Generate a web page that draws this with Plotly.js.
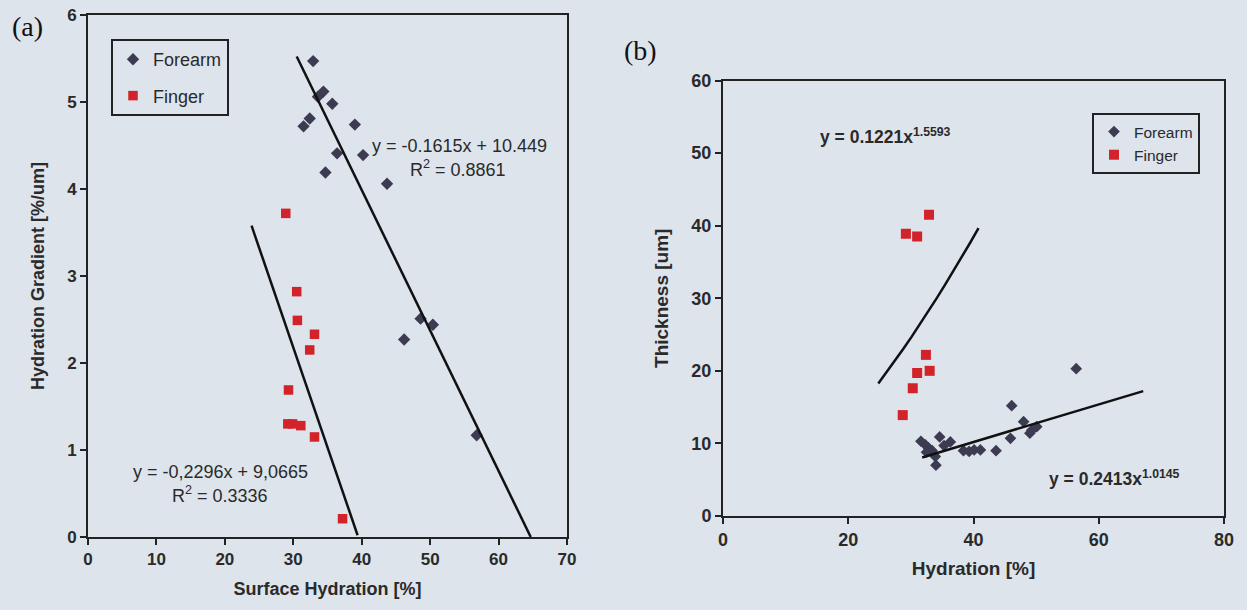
<!DOCTYPE html>
<html>
<head>
<meta charset="utf-8">
<script src="https://cdn.plot.ly/plotly-3.0.1.min.js"></script>
<style>
html,body{margin:0;padding:0;background:#dde4ec;}
#chart{width:1247px;height:610px;}
</style>
</head>
<body>
<div id="chart"></div>
<script>
// ---------- Panel (a): Hydration gradient vs surface hydration ----------
const aForearmX = [32.9, 34.4, 33.6, 35.7, 31.5, 32.4, 39.0, 36.4, 40.2, 34.7, 43.7, 48.6, 50.4, 46.2, 56.8];
const aForearmY = [5.47, 5.12, 5.06, 4.98, 4.72, 4.81, 4.74, 4.41, 4.39, 4.19, 4.06, 2.51, 2.44, 2.27, 1.17];
const aFingerX = [28.9, 30.5, 30.6, 33.1, 32.4, 29.3, 29.2, 29.9, 31.1, 33.1, 37.2];
const aFingerY = [3.72, 2.82, 2.49, 2.33, 2.15, 1.69, 1.30, 1.30, 1.28, 1.15, 0.21];
// linear trend lines y = m*x + c (coefficients as printed) and x-extent
const aForearmFit = [-0.1615, 10.449];
const aForearmFitRange = [30.5, 64.7];
const aFingerFit = [-0.2296, 9.0665];
const aFingerFitRange = [23.9, 39.4];

// ---------- Panel (b): Thickness vs hydration ----------
const bForearmX = [31.6, 32.3, 32.8, 33.4, 32.5, 33.9, 34.0, 34.6, 35.3, 36.3, 38.4, 39.3, 40.1, 41.1, 43.6, 45.9, 46.1, 48.0, 49.3, 49.0, 50.1, 56.4];
const bForearmY = [10.3, 9.8, 9.4, 9.0, 8.8, 8.2, 7.0, 10.9, 9.7, 10.2, 9.0, 8.9, 9.1, 9.1, 9.0, 10.7, 15.2, 13.0, 11.8, 11.4, 12.3, 20.3];
const bFingerX = [29.2, 31.0, 32.9, 32.4, 31.0, 33.0, 30.3, 28.7];
const bFingerY = [38.9, 38.5, 41.5, 22.2, 19.7, 20.0, 17.6, 13.9];
// power trend lines y = a*x^b (coefficients as printed) and x-extent
const bFingerFit = [0.1221, 1.5593];
const bFingerFitRange = [24.8, 40.8];
const bForearmFit = [0.2413, 1.0145];
const bForearmFitRange = [31.8, 67.1];

// ---------- helpers ----------
const W = 1247, H = 610;
const px = x => x / W;
const py = y => 1 - y / H;
function linLine(c, r) {
  return {x: r, y: r.map(v => c[0] * v + c[1])};
}
function powLine(c, r) {
  const n = 12, xs = [];
  for (let i = 0; i <= n; i++) xs.push(r[0] + (r[1] - r[0]) * i / n);
  return {x: xs, y: xs.map(v => c[0] * Math.pow(v, c[1]))};
}

const FONT = 'Arial, "Liberation Sans", sans-serif';
const SERIF = '"Liberation Serif", "DejaVu Serif", serif';
const TXT = '#2a2a2a';
const FORE = '#3d3b52';
const FING = '#d2222a';
const BG = '#dde4ec';

const l1 = linLine(aForearmFit, aForearmFitRange);
const l2 = linLine(aFingerFit, aFingerFitRange);
const p1 = powLine(bFingerFit, bFingerFitRange);
const p2 = powLine(bForearmFit, bForearmFitRange);

const traces = [
  {x: aForearmX, y: aForearmY, type: 'scatter', mode: 'markers', name: 'Forearm',
   marker: {symbol: 'diamond', size: 9.5, color: FORE}, xaxis: 'x', yaxis: 'y',
   legend: 'legend', legendgroup: 'a1'},
  {x: aFingerX, y: aFingerY, type: 'scatter', mode: 'markers', name: 'Finger',
   marker: {symbol: 'square', size: 9.5, color: FING}, xaxis: 'x', yaxis: 'y',
   legend: 'legend', legendgroup: 'a2'},
  {x: l1.x, y: l1.y, type: 'scatter', mode: 'lines', line: {color: '#111', width: 2.5},
   showlegend: false, hoverinfo: 'skip', xaxis: 'x', yaxis: 'y'},
  {x: l2.x, y: l2.y, type: 'scatter', mode: 'lines', line: {color: '#111', width: 2.5},
   showlegend: false, hoverinfo: 'skip', xaxis: 'x', yaxis: 'y'},

  {x: bForearmX, y: bForearmY, type: 'scatter', mode: 'markers', name: 'Forearm',
   marker: {symbol: 'diamond', size: 9, color: FORE}, xaxis: 'x2', yaxis: 'y2',
   legend: 'legend2'},
  {x: bFingerX, y: bFingerY, type: 'scatter', mode: 'markers', name: 'Finger',
   marker: {symbol: 'square', size: 10, color: FING}, xaxis: 'x2', yaxis: 'y2',
   legend: 'legend2'},
  {x: p1.x, y: p1.y, type: 'scatter', mode: 'lines', line: {color: '#111', width: 2.5},
   showlegend: false, hoverinfo: 'skip', xaxis: 'x2', yaxis: 'y2'},
  {x: p2.x, y: p2.y, type: 'scatter', mode: 'lines', line: {color: '#111', width: 2.5},
   showlegend: false, hoverinfo: 'skip', xaxis: 'x2', yaxis: 'y2'}
];

const fnt = (s, w) => ({family: FONT, size: s, color: TXT, weight: w || 'normal'});
const axBase = {
  showline: true, linecolor: '#222', linewidth: 2, mirror: true,
  ticks: 'outside', ticklen: 6, tickwidth: 2, tickcolor: '#222',
  showgrid: false, zeroline: false, fixedrange: true
};
const ann = (text, x, y, font, anchor) => ({
  text: text, x: px(x), y: py(y), xref: 'paper', yref: 'paper',
  xanchor: anchor || 'center', yanchor: 'middle', showarrow: false, font: font
});

const layout = {
  width: W, height: H,
  margin: {l: 0, r: 0, t: 0, b: 0},
  paper_bgcolor: BG, plot_bgcolor: BG,
  showlegend: true,
  xaxis: Object.assign({}, axBase, {
    domain: [px(88), px(567)], range: [0, 70], dtick: 10, anchor: 'y',
    tickfont: fnt(17, 'bold'),
    title: {text: 'Surface Hydration [%]', font: fnt(18, 'bold'), standoff: 14}
  }),
  yaxis: Object.assign({}, axBase, {
    domain: [py(537), py(15)], range: [0, 6], dtick: 1, anchor: 'x',
    tickfont: fnt(17, 'bold'),
    title: {text: 'Hydration Gradient [%/um]', font: fnt(18, 'bold'), standoff: 18}
  }),
  xaxis2: Object.assign({}, axBase, {
    domain: [px(723), px(1224)], range: [0, 80], dtick: 20, anchor: 'y2',
    tickfont: fnt(18, 'bold'),
    title: {text: 'Hydration [%]', font: fnt(19, 'bold'), standoff: 13}
  }),
  yaxis2: Object.assign({}, axBase, {
    domain: [py(516), py(80.5)], range: [0, 60], dtick: 10, anchor: 'x2',
    tickfont: fnt(18, 'bold'),
    title: {text: 'Thickness [um]', font: fnt(19, 'bold'), standoff: 18}
  }),
  legend: {
    x: px(111), y: py(39), xanchor: 'left', yanchor: 'top',
    bgcolor: 'rgba(0,0,0,0)', bordercolor: '#222', borderwidth: 2,
    font: fnt(18), tracegroupgap: 10,
    itemclick: false, itemdoubleclick: false
  },
  legend2: {
    x: px(1200), y: py(113), xanchor: 'right', yanchor: 'top',
    bgcolor: 'rgba(0,0,0,0)', bordercolor: '#222', borderwidth: 2,
    font: fnt(15.5),
    itemclick: false, itemdoubleclick: false
  },
  annotations: [
    ann('(a)', 27, 26, {family: SERIF, size: 28, color: '#111'}),
    ann('(b)', 640, 51, {family: SERIF, size: 28, color: '#111'}),
    ann('y = -0.1615x + 10.449', 459, 146, fnt(18)),
    ann('R<sup>2</sup> = 0.8861', 458, 168, fnt(18)),
    ann('y = -0,2296x + 9,0665', 220, 472, fnt(18)),
    ann('R<sup>2</sup> = 0.3336', 220, 494, fnt(18)),
    ann('<b>y = 0.1221x<sup>1.5593</sup></b>', 818, 136, fnt(17.5), 'left'),
    ann('<b>y = 0.2413x<sup>1.0145</sup></b>', 1047, 478, fnt(17.5), 'left')
  ]
};

Plotly.newPlot('chart', traces, layout, {displayModeBar: false, staticPlot: true});
</script>
</body>
</html>
